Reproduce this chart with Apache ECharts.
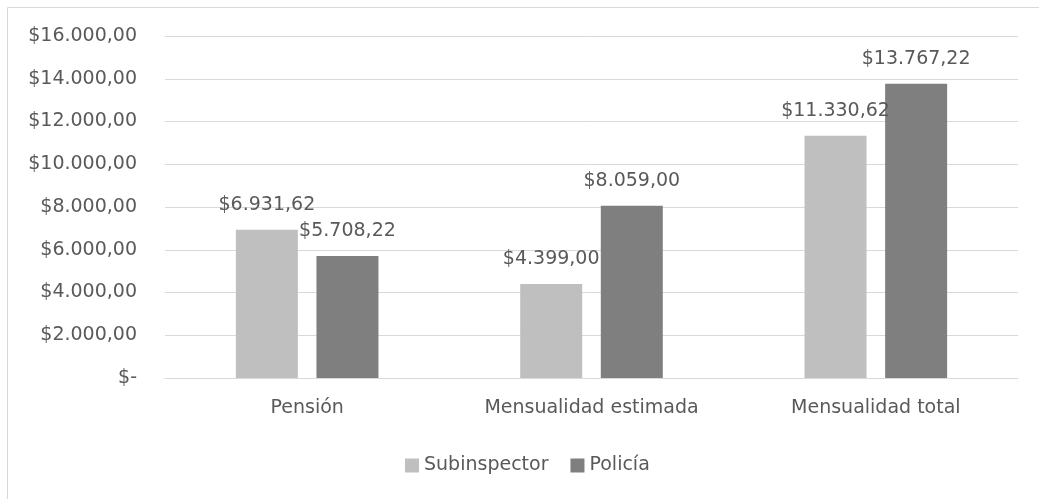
<!DOCTYPE html>
<html><head><meta charset="utf-8">
<script src="https://cdn.jsdelivr.net/npm/echarts@6/dist/echarts.min.js"></script>
<style>html,body{margin:0;padding:0;background:#fff}#c{width:1039px;height:499px}</style>
</head><body><div id="c"></div>
<script>
const categories = ['Pensión', 'Mensualidad estimada', 'Mensualidad total'];
const seriesNames = ['Subinspector', 'Policía'];
const subinspector = [6931.62, 4399.00, 11330.62];
const policia = [5708.22, 8059.00, 13767.22];

function fmt(v) {
  if (v === 0) return '$-';
  const parts = v.toFixed(2).split('.');
  const intPart = parts[0].replace(/\B(?=(\d{3})+(?!\d))/g, '.');
  return '$' + intPart + ',' + parts[1];
}
const FONT = 'DejaVu Sans';
const FS = 19;
const TXT = '#595959';
const chart = echarts.init(document.getElementById('c'));
const labelOpt = {show: true, position: 'top', distance: 15, color: TXT, fontFamily: FONT, fontSize: FS, formatter: p => fmt(p.value)};
chart.setOption({
  animation: false,
  graphic: [{type: 'rect', silent: true, shape: {x: 7.5, y: 7.5, width: 1200, height: 800}, style: {fill: 'none', stroke: '#d9d9d9', lineWidth: 1}}],
  grid: {left: 165, right: 21, top: 36, bottom: 121},
  legend: {top: 451, left: 400, itemWidth: 14, itemHeight: 14, itemGap: 22, icon: 'rect',
    textStyle: {color: TXT, fontFamily: FONT, fontSize: FS}, data: seriesNames},
  xAxis: {type: 'category', data: categories,
    axisLine: {lineStyle: {color: '#d9d9d9'}}, axisTick: {show: false},
    axisLabel: {color: TXT, fontFamily: FONT, fontSize: FS, margin: 21}},
  yAxis: {type: 'value', min: 0, max: 16000, interval: 2000,
    axisLine: {show: false}, axisTick: {show: false},
    splitLine: {lineStyle: {color: '#d9d9d9'}},
    axisLabel: {color: TXT, fontFamily: FONT, fontSize: FS, margin: 28, formatter: fmt}},
  series: [
    {name: seriesNames[0], type: 'bar', data: subinspector, barWidth: 62, barGap: '30%', itemStyle: {color: '#bfbfbf'}, label: labelOpt},
    {name: seriesNames[1], type: 'bar', data: policia, barWidth: 62, barGap: '30%', itemStyle: {color: '#7f7f7f'}, label: labelOpt}
  ]
});
</script></body></html>
